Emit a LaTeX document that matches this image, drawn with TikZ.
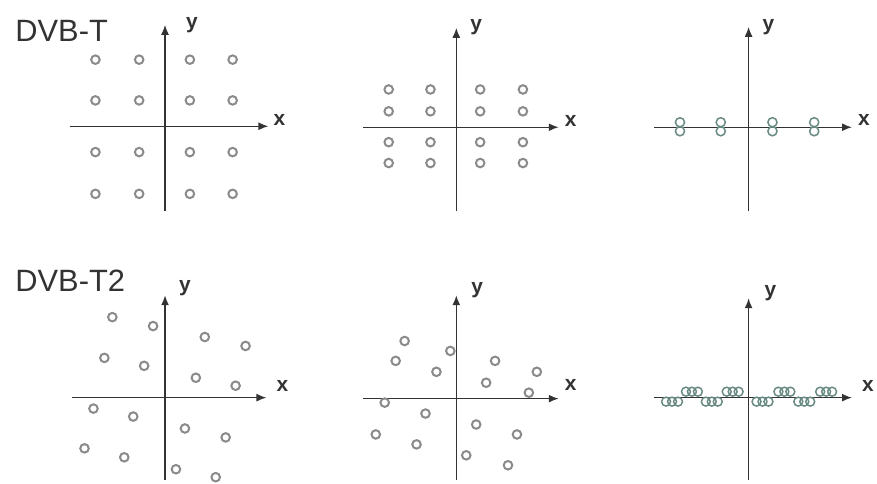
\documentclass[tikz,border=0pt]{standalone}
\usepackage{fontspec}
\setmainfont{Liberation Sans}
\usetikzlibrary{arrows.meta}
\definecolor{axisgray}{HTML}{333333}
\definecolor{dotgray}{HTML}{8A8A8A}
\definecolor{tealgray}{HTML}{6A8B84}

\begin{document}
\begin{tikzpicture}[x=1pt, y=-1pt, >={Latex[length=10pt, width=8pt]},
  axis/.style={->, axisgray, line width=1.5pt},
  qam/.style={draw=dotgray, line width=2pt},
  proj/.style={draw=tealgray, line width=1.5pt},
  axlabel/.style={font=\fontsize{21}{23}\selectfont\bfseries, text=axisgray},
  title/.style={font=\fontsize{31}{34}\selectfont, text=axisgray, anchor=base west}]

% Background (fixes the page size)
\fill[white] (0,0) rectangle (877,486);

% ========== DVB-T (top row) ==========
\node[title] (tT) at (12,42) {DVB-T};

% 16-QAM
\coordinate (o1) at (166,127);
\coordinate (x1a) at (70,127);  \coordinate (x1b) at (270,127);
\coordinate (y1a) at (166,212); \coordinate (y1b) at (166,25);
\draw[axis] (x1a) -- (x1b);
\draw[axis] (y1a) -- (y1b);
\node[axlabel] (lx1) at (281,121) {x};
\node[axlabel] (ly1) at (193,25) {y};
\begin{scope}[shift={(o1)}]
  \foreach \cx in {-70,-26,25,68}
    \foreach \cy in {-67,-26,26,68}
      \draw[qam] (\cx,\cy) circle (4.3pt);
\end{scope}

% faded Q component
\coordinate (o2) at (459,128);
\coordinate (x2a) at (365,128); \coordinate (x2b) at (562,128);
\coordinate (y2a) at (459,212); \coordinate (y2b) at (459,28);
\draw[axis] (x2a) -- (x2b);
\draw[axis] (y2a) -- (y2b);
\node[axlabel] (lx2) at (574,122) {x};
\node[axlabel] (ly2) at (479,27) {y};
\begin{scope}[shift={(o2)}]
  \foreach \cx in {-68,-26,24,67}
    \foreach \cy in {-38,-16,15,36}
      \draw[qam] (\cx,\cy) circle (4.3pt);
\end{scope}

% Q component lost
\coordinate (o3) at (753,128);
\coordinate (x3a) at (658,128); \coordinate (x3b) at (857,128);
\coordinate (y3a) at (753,212); \coordinate (y3b) at (753,27);
\draw[axis] (x3a) -- (x3b);
\draw[axis] (y3a) -- (y3b);
\node[axlabel] (lx3) at (869,121) {x};
\node[axlabel] (ly3) at (773,27) {y};
\begin{scope}[shift={(o3)}]
  \foreach \cx in {-69,-28,24,66}
    \foreach \cy in {-5,4}
      \draw[proj] (\cx,\cy) circle (4.6pt);
\end{scope}

% ========== DVB-T2 (bottom row) ==========
\node[title] (tT2) at (12,293) {DVB-T2};

% rotated 16-QAM
\coordinate (o4) at (166,400);
\coordinate (x4a) at (72,400);  \coordinate (x4b) at (268,400);
\coordinate (y4a) at (166,483); \coordinate (y4b) at (166,297);
\draw[axis] (x4a) -- (x4b);
\draw[axis] (y4a) -- (y4b);
\node[axlabel] (lx4) at (284,388) {x};
\node[axlabel] (ly4) at (186,290) {y};
\foreach \px/\py in {113/319, 154/328, 206/339, 247/348,
                     105/360, 145/368, 197/380, 237/388,
                      94/411, 134/419, 186/431, 227/440,
                      85/451, 125/460, 177/472, 217/480}
  \draw[qam] (\px,\py) circle (4.3pt);

% faded Q component
\coordinate (o5) at (459,401);
\coordinate (x5a) at (365,401); \coordinate (x5b) at (562,401);
\coordinate (y5a) at (459,483); \coordinate (y5b) at (459,297);
\draw[axis] (x5a) -- (x5b);
\draw[axis] (y5a) -- (y5b);
\node[axlabel] (lx5) at (574,387) {x};
\node[axlabel] (ly5) at (480,292) {y};
\foreach \px/\py in {407/343, 453/353, 498/363, 540/374,
                     398/363, 439/374, 489/385, 532/395,
                     387/405, 428/416, 479/427, 520/437,
                     378/437, 419/447, 469/458, 511/468}
  \draw[qam] (\px,\py) circle (4.3pt);

% Q component lost
\coordinate (o6) at (753,400);
\coordinate (x6a) at (658,400); \coordinate (x6b) at (857,400);
\coordinate (y6a) at (753,483); \coordinate (y6b) at (753,300);
\draw[axis] (x6a) -- (x6b);
\draw[axis] (y6a) -- (y6b);
\node[axlabel] (lx6) at (873,388) {x};
\node[axlabel] (ly6) at (775,295) {y};
\begin{scope}[shift={(o6)}]
  \foreach \cx/\cy in {-77/4, -37/4, 14/4, 56/4, -57/-6, -16/-6, 36/-6, 78/-6}
    \foreach \d in {-6,0,6}
      \draw[proj] (\cx+\d,\cy) circle (4.5pt);
\end{scope}

\end{tikzpicture}
\end{document}
